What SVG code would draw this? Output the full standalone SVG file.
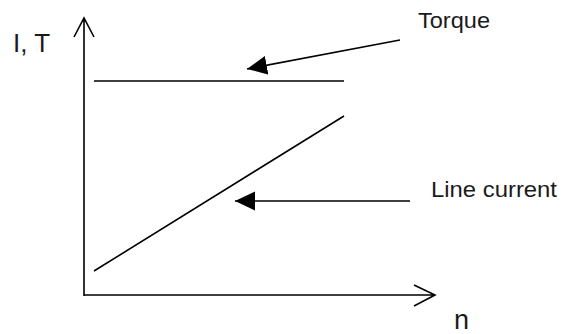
<svg xmlns="http://www.w3.org/2000/svg" width="567" height="334" viewBox="0 0 567 334">
<defs>
<style>
.ln{stroke:#000;stroke-width:1.6;fill:none;stroke-linecap:butt}
.t{font-family:"Liberation Sans",Arial,sans-serif;fill:#1a1a1a}
</style>
<marker id="ah" markerUnits="userSpaceOnUse" markerWidth="22" markerHeight="20" refX="20" refY="9.5" orient="auto" viewBox="0 0 22 20">
<path d="M0,0 L20,9.5 L0,19 Z" fill="#000"/>
</marker>
</defs>
<rect width="567" height="334" fill="#fff"/>
<g id="axes">
<path class="ln" d="M84,296 L84,18 M74,37 L84,18 L94,37"/>
<path class="ln" d="M84,295 L435,295 M414,285 L435,295 L414,306"/>
</g>
<g id="curves">
<line id="torque-curve" class="ln" x1="94" y1="81" x2="344" y2="81"/>
<line id="current-curve" class="ln" x1="94" y1="271" x2="344" y2="116"/>
</g>
<g id="connectors">
<line class="ln" x1="400" y1="40" x2="247" y2="69" marker-end="url(#ah)"/>
<line class="ln" x1="410" y1="201" x2="235" y2="201" marker-end="url(#ah)"/>
</g>
<g id="label-IT"><text class="t" x="13" y="52" font-size="26">I, T</text></g>
<g id="label-torque"><text class="t" x="418" y="28" font-size="22" textLength="72" lengthAdjust="spacingAndGlyphs">Torque</text></g>
<g id="label-current"><text class="t" x="431" y="197" font-size="22" textLength="126" lengthAdjust="spacingAndGlyphs">Line current</text></g>
<g id="label-n"><text class="t" x="454" y="329" font-size="27">n</text></g>
</svg>
